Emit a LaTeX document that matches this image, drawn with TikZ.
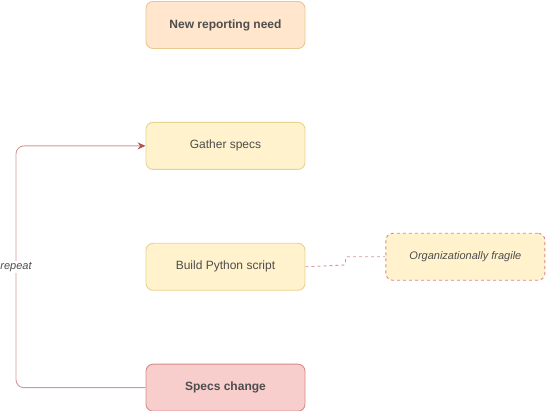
\documentclass[tikz,border=0pt]{standalone}
\usepackage{fontspec}
\setmainfont{Liberation Sans}
\usetikzlibrary{positioning,arrows.meta}

\definecolor{needfill}{HTML}{FFE6CC}
\definecolor{needline}{HTML}{E9C88F}
\definecolor{specfill}{HTML}{FFF2CC}
\definecolor{specline}{HTML}{E8D38E}
\definecolor{chgfill}{HTML}{F8CECC}
\definecolor{chgline}{HTML}{D48A88}
\definecolor{edgeline}{HTML}{D49A99}
\definecolor{tipcol}{HTML}{B85450}
\definecolor{txt}{HTML}{4D4D4D}

\begin{document}
\begin{tikzpicture}[
		x = 1pt, y = 1pt,
		> = {Stealth[length=8pt,width=7pt,color=tipcol]}, % arrow head style
		node distance = 72pt, % gap between boxes
		line width = 0.9pt,
		font = \fontsize{12}{14}\selectfont,
		box/.style = {rectangle, rounded corners=7pt, minimum width=159pt,
			minimum height=47pt, inner sep=0pt, text=txt},
		stage/.style = {box, draw=specline, fill=specfill},
		need/.style = {box, draw=needline, fill=needfill, font=\fontsize{12}{14}\selectfont\bfseries},
		change/.style = {box, draw=chgline, fill=chgfill, font=\fontsize{12}{14}\selectfont\bfseries},
		note/.style = {box, draw=chgline, fill=specfill, dash pattern=on 3pt off 3pt,
			font=\fontsize{11}{13}\selectfont\itshape},
		back/.style = {draw=edgeline, rounded corners=8pt},
		fragline/.style = {draw=edgeline, dash pattern=on 3pt off 3pt, rounded corners=2pt}
		]
		
		\useasboundingbox (0,0) rectangle (547,-411);
		
		\node[need] (need) at (225.5,-25) {New reporting need};
		\node[stage] (gather) [below=73pt of need] {Gather specs};
		\node[stage] (build) [below=73pt of gather] {Build Python script};
		\node[change] (change) [below=73pt of build] {Specs change};
		\node[note] (fragile) [right=80pt of build, yshift=10pt] {Organizationally fragile};
		
		\coordinate (turn) at (16,-267);
		\coordinate (step) at (345.5,-265);
		
		\draw[back,->] (change.west) -| (turn) |- (gather.west);
		\node[font=\fontsize{11}{13}\selectfont\itshape, text=txt, fill=white,
			inner sep=1pt] (rep) at (turn) {repeat};
		
		\draw[fragline] (build.east) -- (step) |- (fragile.west);
	\end{tikzpicture}
\end{document}
